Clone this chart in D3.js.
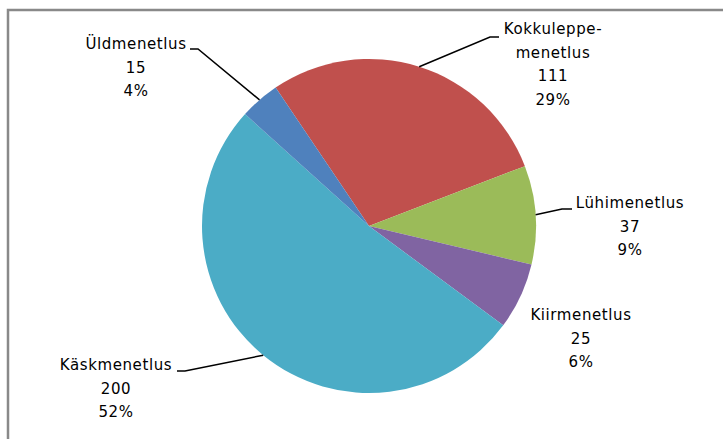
<!DOCTYPE html>
<html>
<head>
<meta charset="utf-8">
<script src="https://cdn.jsdelivr.net/npm/d3@7"></script>
<style>
  body { margin: 0; background: #fff; }
  svg text { font-family: "DejaVu Sans", sans-serif; font-size: 15px; letter-spacing: 0.6px; fill: #000; }
</style>
</head>
<body>
<svg id="chart"></svg>
<script>
// slices, clockwise from the red one
var names = ["Kokkuleppe-\nmenetlus", "Lühimenetlus", "Kiirmenetlus", "Käskmenetlus", "Üldmenetlus"]
var counts = [111, 37, 25, 200, 15]
var pcts = ["29%", "9%", "6%", "52%", "4%"]
var colors = ["#C0504D", "#9BBB59", "#8064A2", "#4BACC6", "#4F81BD"]

var width = 723, height = 439
var cx = 369, cy = 226, r = 167

var svg = d3.select("#chart")
    .attr("width", width)
    .attr("height", height)

// chart area frame (only top and left edges show)
svg.append("path")
    .attr("d", "M8,439 V10 H723")
    .attr("fill", "none")
    .attr("stroke", "#898989")
    .attr("stroke-width", 2.5)

var startA = -34 * Math.PI / 180
var pie = d3.pie().sort(null).value(d => d)
    .startAngle(startA).endAngle(startA + 2 * Math.PI)
var arcs = pie(counts)

var arc = d3.arc().innerRadius(0).outerRadius(r)

var g = svg.append("g").attr("transform", "translate(" + cx + "," + cy + ")")

g.selectAll(".slice")
    .data(arcs)
    .enter().append("path")
    .attr("class", "slice")
    .attr("d", arc)
    .attr("fill", (d, i) => colors[i])

// label placement (center x, first baseline) and leader lines
var labelPos = [[553, 34], [630, 208], [581, 320], [116, 370], [136, 49]]
var leaders = [
    [[499, 37], [490, 37]],
    [[572, 209], [562, 209]],
    null,
    [[177, 371], [185, 371]],
    [[190, 49], [198, 49]]
]

leaders.forEach((l, i) => {
    if (!l) return
    // end point on the pie edge, along the slice middle
    var a = (arcs[i].startAngle + arcs[i].endAngle) / 2
    var end = [cx + r * Math.sin(a), cy - r * Math.cos(a)]
    svg.append("polyline")
        .attr("points", [l[0], l[1], end].map(p => p.join(",")).join(" "))
        .attr("fill", "none")
        .attr("stroke", "#000")
        .attr("stroke-width", 1.5)
})

names.forEach((n, i) => {
    var lines = n.split("\n").concat([String(counts[i]), pcts[i]])
    var t = svg.append("text")
        .attr("text-anchor", "middle")
        .attr("x", labelPos[i][0])
        .attr("y", labelPos[i][1])
    lines.forEach((s, j) => {
        t.append("tspan")
            .attr("x", labelPos[i][0])
            .attr("dy", j == 0 ? 0 : 23.7)
            .text(s)
    })
})
</script>
</body>
</html>
